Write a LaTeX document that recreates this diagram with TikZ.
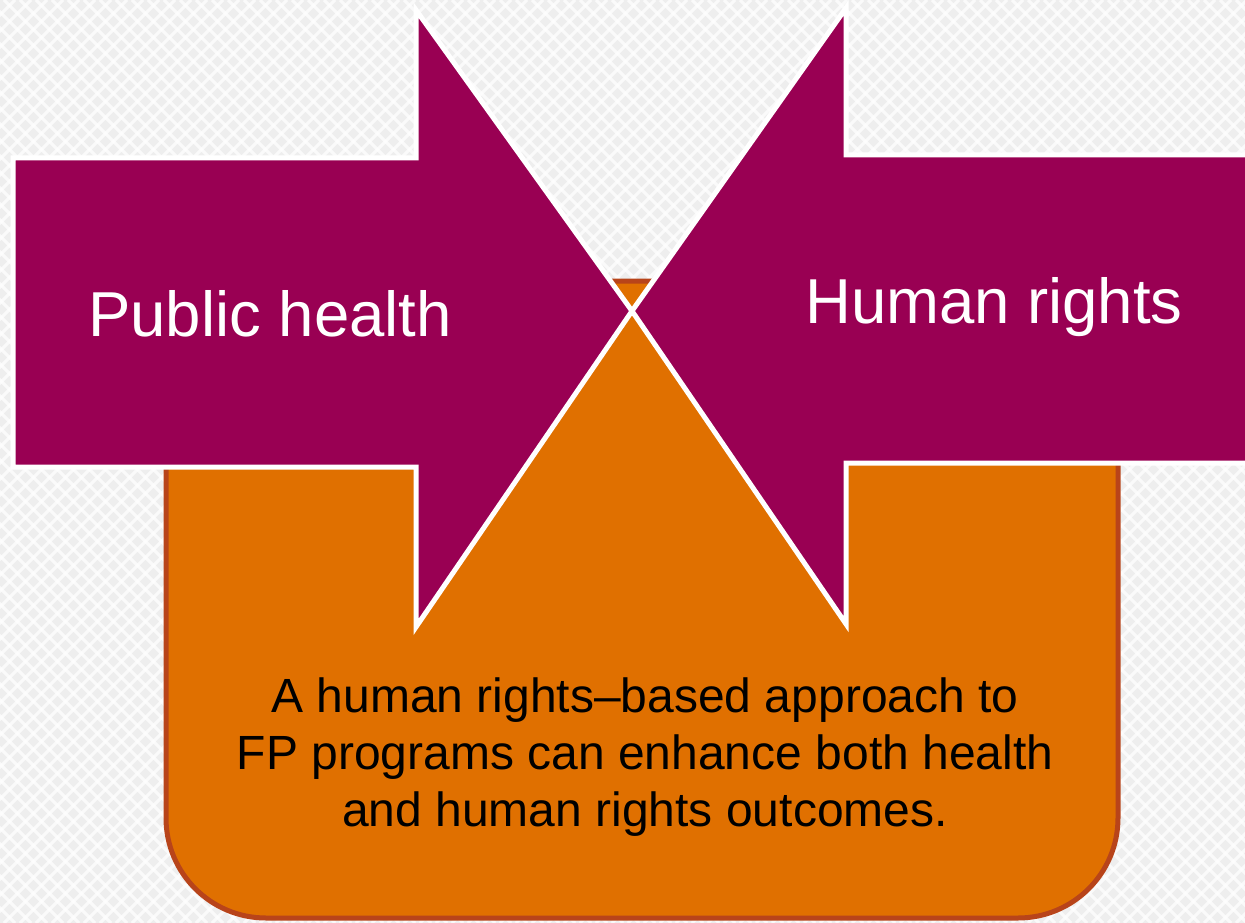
\documentclass[tikz,border=0pt]{standalone}
\usepackage{fontspec}
\setmainfont{Liberation Sans}
\definecolor{bgbase}{RGB}{238,238,238}
\definecolor{plum}{RGB}{153,0,83}
\definecolor{amber}{RGB}{224,112,0}
\definecolor{rust}{RGB}{184,68,26}
\tikzset{
  arrowshape/.style={fill=plum, draw=white, line width=5pt, line join=miter},
  basebox/.style={fill=amber, draw=rust, line width=5pt},
  bigtext/.style={text=white, font=\fontsize{63.5}{70}\selectfont, inner sep=0pt},
  bodytext/.style={text=black, font=\fontsize{48}{57}\selectfont, align=center, inner sep=0pt}
}
\begin{document}
\begin{tikzpicture}[x=1pt,y=-1pt]
  \useasboundingbox (0,0) rectangle (1245,923);
  \begin{scope}
    \clip (0,0) rectangle (1245,923);
    % light cross-hatched backdrop
    \fill[bgbase] (0,0) rectangle (1245,923);
    \foreach \k in {-940,-924,...,1260} {
      \draw[white, line width=3pt, opacity=0.75] (\k,0) -- ++(923,923);
      \draw[white, line width=3pt, opacity=0.75] (\k,923) -- ++(923,-923);
    }
    % orange base panel with rounded lower corners
    \draw[basebox] (166,281) -- (1118,281) -- (1118,818)
      arc[start angle=0, end angle=90, radius=100] -- (266,918)
      arc[start angle=90, end angle=180, radius=100] -- cycle;
    % two arrows meeting at the centre
    \draw[arrowshape] (13,158) -- (416,158) -- (416,10) -- (632,311)
      -- (416,627) -- (416,467) -- (13,467) -- cycle;
    \draw[arrowshape] (1260,155) -- (846,155) -- (846,8) -- (632,311)
      -- (846,624) -- (846,463) -- (1260,463) -- cycle;
  \end{scope}
  \node[bigtext] (ph) at (270,314) {Public health};
  \node[bigtext] (hr) at (994,307) {Human rights};
  \node[bodytext] (msg) at (645,757) {A human rights–based approach to\\FP programs can enhance both health\\and human rights outcomes.};
\end{tikzpicture}
\end{document}
